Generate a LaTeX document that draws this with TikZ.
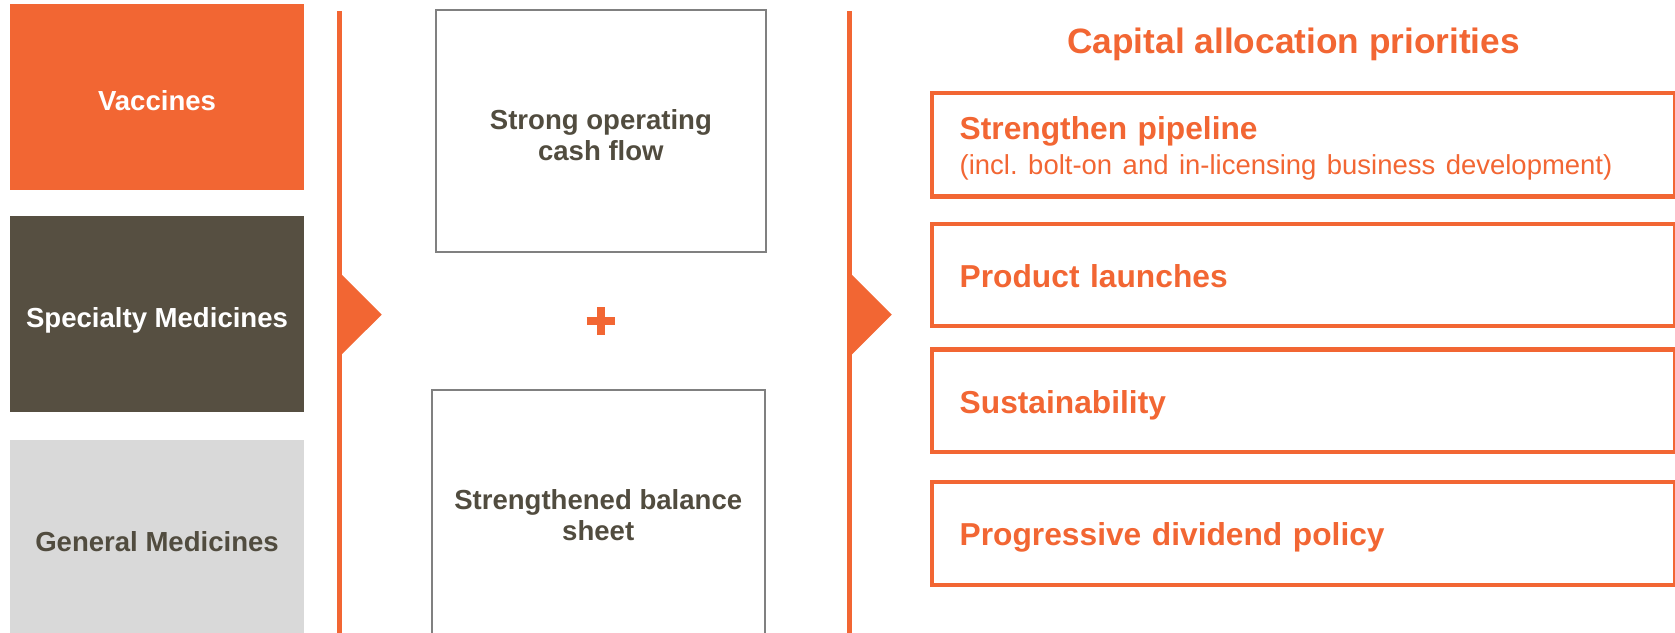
\documentclass[tikz,border=0pt]{standalone}
\usepackage{fontspec}
\setmainfont{Liberation Sans}
\frenchspacing
\definecolor{gskorange}{RGB}{242,102,51}
\definecolor{gskbrown}{RGB}{86,79,65}
\definecolor{gsklight}{RGB}{217,217,217}
\definecolor{gsktext}{RGB}{81,76,63}
\definecolor{gskgrey}{RGB}{128,128,128}

\begin{document}
\begin{tikzpicture}[x=1pt,y=-1pt]
    \tikzstyle{seg} = [rectangle,inner sep=0pt,minimum width=275pt,text height=26pt,text depth=0pt,font=\fontsize{25.8}{28.6}\selectfont\bfseries]
    \tikzstyle{src} = [rectangle,draw=gskgrey,line width=1.8pt,inner sep=0pt,align=center,text=gsktext,font=\fontsize{25.8}{28.6}\selectfont\bfseries]
    \tikzstyle{prio} = [rectangle,draw=gskorange,line width=4pt,inner xsep=26pt,inner ysep=0pt,minimum width=695.6pt,minimum height=96pt,text width=643.6pt,align=left,text height=26pt,text depth=2.5pt,text=gskorange,font=\fontsize{29.7}{33.3}\selectfont\bfseries]
    \tikzstyle{sep} = [draw=gskorange,line width=4.7pt]
    \useasboundingbox (0,0) rectangle (1568,592);
    % segments
    \node [seg,fill=gskorange,text=white,minimum height=173.6pt] (s1) at (147,90.6) {Vaccines};
    \node [seg,fill=gskbrown,text=white,minimum height=183.1pt] (s2) at (147,293.9) {Specialty Medicines};
    \node [seg,fill=gsklight,text=gsktext,minimum height=181.6pt] (s3) at (147,503) {General Medicines};
    % separators
    \coordinate (t1) at (317.5,10.6);
    \coordinate (b1) at (317.5,600);
    \coordinate (t2) at (795,10.6);
    \coordinate (b2) at (795,600);
    \draw [sep] (t1) -- (b1);
    \draw [sep] (t2) -- (b2);
    \fill [gskorange] (319.5,256.7) -- (357.3,294.5) -- (319.5,332.2) -- cycle;
    \fill [gskorange] (797,256.7) -- (834.8,294.5) -- (797,332.2) -- cycle;
    % sources
    \node [src,minimum width=309pt,minimum height=226.6pt,text height=60pt,text depth=4.6pt] (c1) at (562.5,122.5) {Strong operating\\cash flow};
    \node [src,minimum width=312pt,minimum height=234.6pt,text height=50pt,text depth=3.2pt] (c2) at (560,482.5) {Strengthened balance\\sheet};
    \coordinate (plus) at (562.5,300.5);
    \draw [gskorange,line width=8pt] ([xshift=-13.3pt]plus) -- ([xshift=13.3pt]plus);
    \draw [gskorange,line width=8pt] ([yshift=-12.8pt]plus) -- ([yshift=12.8pt]plus);
    % priorities
    \node [text=gskorange,font=\fontsize{33}{33}\selectfont\bfseries,anchor=base] (title) at (1211,50) {Capital allocation priorities};
    \node [prio,minimum height=97pt,text depth=36pt] (p1) at (1220.2,135.5) {Strengthen pipeline\\{\fontsize{25.7}{33.3}\selectfont\mdseries (incl. bolt-on and in-licensing business development)}};
    \node [prio] (p2) at (1220.2,257.45) {Product launches};
    \node [prio] (p3) at (1220.2,375.25) {Sustainability};
    \node [prio] (p4) at (1220.2,499.35) {Progressive dividend policy};
\end{tikzpicture}
\end{document}
